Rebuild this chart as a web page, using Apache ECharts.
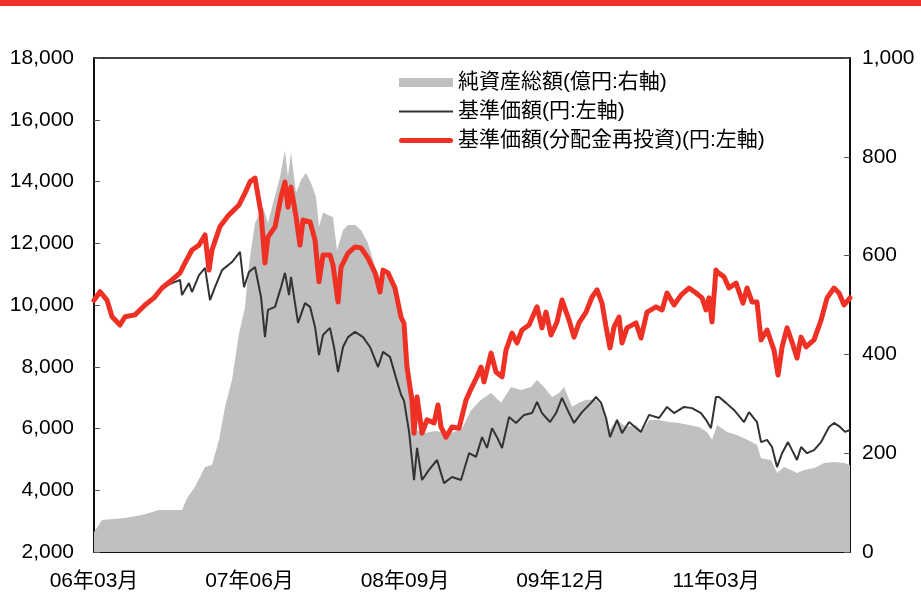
<!DOCTYPE html>
<html>
<head>
<meta charset="utf-8">
<script src="https://cdn.jsdelivr.net/npm/echarts@6/dist/echarts.min.js"></script>
<style>
html,body{margin:0;padding:0;background:#fff;}
#chart{width:921px;height:592px;}
</style>
</head>
<body>
<div id="chart"></div>
<script>
// x positions are months elapsed since 2006-03
var xTickLabels = ['06年03月', '07年06月', '08年09月', '09年12月', '11年03月'];
var leftTicks = [2000, 4000, 6000, 8000, 10000, 12000, 14000, 16000, 18000];
var rightTicks = [0, 200, 400, 600, 800, 1000];

var seriesNames = ['純資産総額(億円:右軸)', '基準価額(円:左軸)', '基準価額(分配金再投資)(円:左軸)'];

// 純資産総額 (億円, right axis)
var assetMonths = [0, 0.77, 2.99, 4.63, 6.27, 8.49, 8.97, 9.74, 10.71, 11.38, 12.06, 12.64, 13.31, 13.99, 14.57, 14.86, 15.14, 15.53, 16.30, 16.78, 17.27, 17.94, 18.42, 18.71, 19.00, 19.49, 19.97, 20.45, 20.93, 21.41, 21.70, 22.09, 22.57, 23.05, 23.44, 24.02, 24.50, 25.18, 25.75, 26.43, 27.11, 27.68, 28.36, 29.03, 29.61, 29.90, 30.19, 30.48, 30.96, 31.64, 32.89, 34.34, 35.50, 36.37, 37.33, 38.30, 39.26, 40.23, 41.19, 42.16, 42.73, 43.41, 44.18, 44.86, 45.34, 46.11, 46.78, 47.46, 48.42, 49.00, 49.68, 50.45, 51.32, 52.28, 52.86, 53.54, 54.50, 55.47, 56.43, 57.39, 58.36, 59.13, 59.61, 60.10, 61.06, 62.02, 62.99, 63.95, 64.34, 65.30, 65.88, 66.56, 67.23, 67.81, 68.49, 69.45, 70.42, 71.38, 72.35, 72.92];
var assetValues = [40, 65, 69, 75, 85, 85, 109, 132, 172, 176, 227, 294, 348, 443, 496, 565, 611, 666, 698, 666, 706, 759, 814, 759, 808, 727, 753, 767, 747, 719, 658, 688, 682, 678, 611, 652, 662, 662, 652, 625, 577, 551, 565, 530, 464, 440, 362, 330, 250, 240, 245, 240, 250, 287, 308, 322, 302, 334, 328, 334, 348, 334, 314, 322, 334, 294, 302, 308, 308, 294, 247, 267, 253, 257, 243, 267, 267, 263, 261, 257, 253, 243, 227, 257, 243, 237, 227, 217, 190, 186, 160, 172, 166, 160, 166, 170, 180, 182, 180, 176];

// 基準価額 (円, left axis)
var navMonths = [0, 0.58, 1.25, 1.74, 2.51, 2.99, 3.95, 4.92, 5.79, 6.56, 7.52, 8.30, 8.49, 9.16, 9.45, 10.13, 10.71, 11.19, 11.67, 12.35, 13.31, 14.08, 14.47, 14.95, 15.53, 16.11, 16.49, 16.78, 17.46, 18.04, 18.42, 18.81, 19.00, 19.68, 20.35, 20.84, 21.32, 21.70, 22.09, 22.76, 23.15, 23.54, 24.02, 24.50, 25.18, 25.95, 26.62, 27.40, 27.88, 28.55, 29.13, 29.61, 29.90, 30.39, 30.87, 31.16, 31.64, 32.31, 33.09, 33.76, 34.53, 35.40, 36.17, 36.85, 37.43, 37.91, 38.39, 38.87, 39.36, 40.03, 40.71, 41.48, 42.25, 42.73, 43.21, 43.99, 44.57, 45.14, 45.82, 46.30, 47.07, 47.94, 48.42, 48.91, 49.39, 49.77, 50.45, 50.93, 51.61, 52.76, 53.54, 54.50, 55.27, 55.95, 56.91, 57.68, 58.55, 59.03, 59.51, 59.99, 60.29, 60.96, 61.73, 62.70, 63.18, 63.95, 64.34, 64.92, 65.40, 65.88, 66.37, 66.94, 67.33, 67.81, 68.20, 68.78, 69.45, 70.13, 70.90, 71.38, 71.96, 72.44, 72.92];
var navValues = [10150, 10430, 10160, 9620, 9350, 9620, 9680, 10000, 10230, 10550, 10710, 10810, 10320, 10710, 10420, 10970, 11200, 10160, 10580, 11130, 11390, 11720, 10580, 11070, 11230, 10260, 8960, 9840, 9940, 10580, 11040, 10320, 10910, 9420, 10060, 9940, 9290, 8380, 9030, 9260, 8640, 7830, 8640, 8960, 9130, 8960, 8640, 7990, 8480, 8320, 7640, 7100, 6900, 5900, 4330, 5370, 4330, 4660, 4980, 4230, 4430, 4330, 5200, 5080, 5720, 5370, 6010, 5720, 5370, 6370, 6180, 6440, 6500, 6860, 6500, 6210, 6500, 6990, 6500, 6180, 6530, 6830, 7020, 6830, 6340, 5720, 6280, 5850, 6210, 5890, 6440, 6340, 6700, 6500, 6700, 6660, 6500, 6280, 6010, 7020, 7020, 6830, 6600, 6210, 6530, 6210, 5560, 5630, 5400, 4750, 5200, 5560, 5300, 4980, 5400, 5200, 5300, 5560, 6050, 6180, 6050, 5890, 5950];

// 基準価額(分配金再投資) (円, left axis)
var reinvMonths = [0, 0.58, 1.25, 1.74, 2.51, 2.99, 3.95, 4.92, 5.79, 6.56, 7.52, 8.30, 8.68, 9.45, 10.13, 10.71, 11.09, 11.38, 12.15, 13.02, 13.99, 14.57, 15.05, 15.53, 16.11, 16.49, 16.78, 17.46, 18.04, 18.42, 18.71, 19.00, 19.49, 19.87, 20.16, 20.84, 21.32, 21.70, 22.09, 22.76, 23.05, 23.54, 23.83, 24.50, 25.18, 25.75, 26.43, 27.11, 27.59, 27.88, 28.36, 29.03, 29.61, 29.90, 30.19, 30.67, 30.87, 31.16, 31.64, 32.12, 32.80, 33.18, 33.47, 33.95, 34.53, 35.21, 35.88, 36.46, 36.94, 37.33, 37.62, 38.30, 38.78, 39.36, 39.74, 40.32, 40.80, 41.28, 41.96, 42.73, 43.21, 43.60, 44.08, 44.66, 45.14, 45.82, 46.30, 46.78, 47.46, 48.04, 48.52, 49.00, 49.39, 49.77, 50.16, 50.64, 50.93, 51.41, 52.28, 52.76, 53.34, 54.21, 54.79, 55.27, 55.95, 56.62, 57.39, 58.07, 58.65, 59.03, 59.32, 59.61, 59.99, 60.19, 60.77, 61.25, 61.93, 62.60, 62.99, 63.47, 63.95, 64.34, 64.92, 65.59, 65.98, 66.37, 66.85, 67.33, 67.81, 68.20, 68.68, 69.45, 70.13, 70.71, 71.38, 71.86, 72.35, 72.92];
var reinvValues = [10150, 10430, 10160, 9620, 9350, 9620, 9680, 10000, 10230, 10550, 10810, 11040, 11300, 11780, 11940, 12270, 11130, 11780, 12540, 12920, 13240, 13630, 13990, 14110, 12980, 11360, 12200, 12530, 13500, 13980, 13170, 13820, 12850, 11940, 12750, 12690, 12100, 10750, 11620, 11620, 11300, 10100, 11230, 11680, 11880, 11850, 11520, 11040, 10420, 11130, 11040, 10550, 9610, 9400, 7990, 6920, 5850, 7020, 5850, 6280, 6180, 6760, 6050, 5720, 6050, 6010, 6920, 7350, 7670, 7990, 7510, 8440, 7830, 7670, 8540, 9090, 8770, 9190, 9350, 9940, 9260, 9770, 9030, 9450, 10160, 9510, 8960, 9420, 9770, 10260, 10490, 10060, 9290, 8610, 9290, 9610, 8770, 9260, 9420, 8930, 9770, 9940, 9840, 10390, 10000, 10320, 10550, 10390, 10230, 9840, 10230, 9450, 11130, 11050, 10910, 10550, 10710, 10060, 10550, 10100, 10100, 8870, 9190, 8540, 7730, 8640, 9260, 8800, 8280, 8960, 8640, 8870, 9510, 10230, 10550, 10390, 10000, 10230];

function pairs(xs, ys) {
  var out = [];
  for (var i = 0; i < xs.length; i++) out.push([xs[i], ys[i]]);
  return out;
}
function addCommas(v) {
  return String(v).replace(/\B(?=(\d{3})+(?!\d))/g, ',');
}

var FONT = "'Liberation Sans', 'Noto Sans CJK JP', sans-serif";
var RED = '#ee3124';
var GRAY = '#c0c0c0';
var DARK = '#333333';

var chart = echarts.init(document.getElementById('chart'), null, {renderer: 'canvas'});
chart.setOption({
  animation: false,
  backgroundColor: '#ffffff',
  graphic: [{
    type: 'rect', left: 0, top: 0, z: 100,
    shape: {width: 921, height: 6},
    style: {fill: RED}
  }],
  grid: {left: 94, right: 71, top: 58, bottom: 40, show: true, borderColor: '#000', borderWidth: 1.5, backgroundColor: 'transparent'},
  legend: {
    orient: 'vertical', left: 399, top: 72, padding: 0,
    itemWidth: 54, itemHeight: 9, itemGap: 8, symbolKeepAspect: true,
    textStyle: {fontFamily: FONT, fontSize: 21, color: '#000', lineHeight: 21},
    data: [
      {name: seriesNames[0], icon: 'rect'},
      {name: seriesNames[1], icon: 'path://M0,0H54V2H0Z'},
      {name: seriesNames[2], icon: 'path://M2.5,0H51.5A2.5,2.5,0,0,1,51.5,5H2.5A2.5,2.5,0,0,1,2.5,0Z'}
    ]
  },
  xAxis: {
    type: 'value', min: 0, max: 72.92, interval: 15,
    axisLine: {show: true, lineStyle: {color: '#000', width: 1.5}},
    axisTick: {show: true, inside: true, length: 6, lineStyle: {color: '#555'}},
    splitLine: {show: false},
    axisLabel: {
      fontFamily: FONT, fontSize: 21, color: '#000', margin: 19,
      showMaxLabel: false,
      formatter: function (v) {
        var k = Math.round(v / 15);
        return (Math.abs(v - k * 15) < 1e-6 && xTickLabels[k]) ? xTickLabels[k] : '';
      }
    }
  },
  yAxis: [{
    type: 'value', min: leftTicks[0], max: leftTicks[leftTicks.length - 1], interval: leftTicks[1] - leftTicks[0],
    position: 'left',
    axisLine: {show: true, lineStyle: {color: '#000', width: 1.5}},
    axisTick: {show: true, inside: true, length: 6, lineStyle: {color: '#555'}},
    splitLine: {show: false},
    axisLabel: {fontFamily: FONT, fontSize: 21, color: '#000', margin: 20, formatter: addCommas}
  }, {
    type: 'value', min: rightTicks[0], max: rightTicks[rightTicks.length - 1], interval: rightTicks[1] - rightTicks[0],
    position: 'right',
    axisLine: {show: true, lineStyle: {color: '#000', width: 1.5}},
    axisTick: {show: true, inside: true, length: 6, lineStyle: {color: '#555'}},
    splitLine: {show: false},
    axisLabel: {fontFamily: FONT, fontSize: 21, color: '#000', margin: 12, formatter: addCommas}
  }],
  series: [{
    name: seriesNames[0], type: 'line', yAxisIndex: 1,
    data: pairs(assetMonths, assetValues),
    symbol: 'none', showSymbol: false,
    itemStyle: {color: GRAY},
    lineStyle: {width: 0, color: GRAY},
    areaStyle: {color: GRAY, opacity: 1},
    z: 1
  }, {
    name: seriesNames[1], type: 'line', yAxisIndex: 0,
    data: pairs(navMonths, navValues),
    symbol: 'none', showSymbol: false,
    itemStyle: {color: DARK},
    lineStyle: {width: 2, color: DARK},
    z: 2
  }, {
    name: seriesNames[2], type: 'line', yAxisIndex: 0,
    data: pairs(reinvMonths, reinvValues),
    symbol: 'none', showSymbol: false,
    itemStyle: {color: RED},
    lineStyle: {width: 5, color: RED, cap: 'round', join: 'round'},
    z: 3
  }]
});
</script>
</body>
</html>
